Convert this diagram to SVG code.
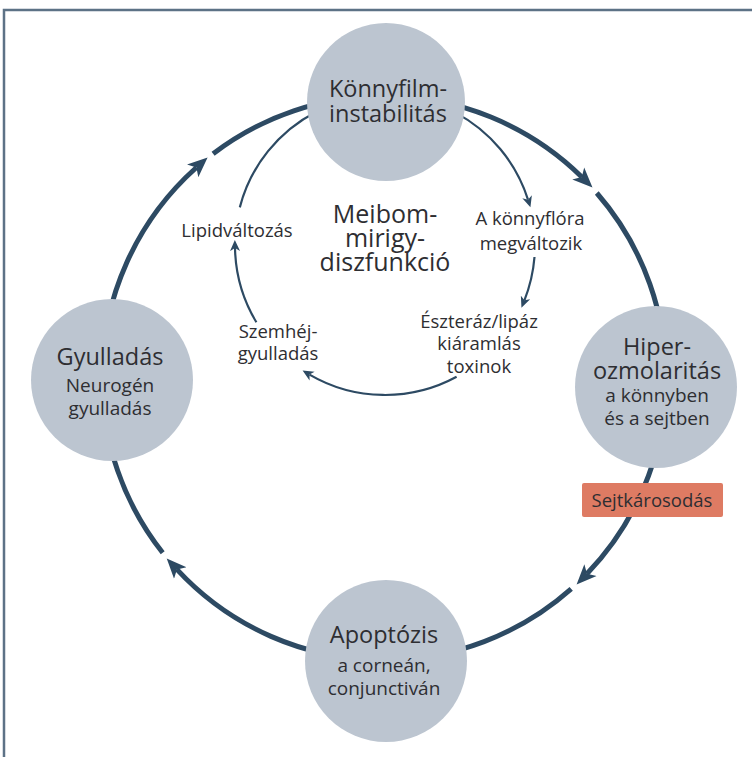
<svg xmlns="http://www.w3.org/2000/svg" width="752" height="757" viewBox="0 0 752 757">
<style>
.bg{fill:#ffffff}
.frame{fill:none;stroke:#5d7286;stroke-width:2.5}
.outer{fill:none;stroke:#2d4a63;stroke-width:5}
.inner{fill:none;stroke:#2d4a63;stroke-width:2.2}
.node{fill:#bcc5d0}
.t{font-family:"Open Sans","Noto Sans","Liberation Sans",sans-serif;fill:#2e2e32;text-anchor:middle}
.big{font-size:23.5px}
.small{font-size:19px}
.lab{font-size:18.5px}
.mid{font-size:25px}
.box{fill:#de7b63}
</style>
<defs>
<marker id="ao" markerUnits="userSpaceOnUse" markerWidth="24" markerHeight="20" viewBox="0 -10 24 20" refX="5" refY="0" orient="auto">
<path d="M0,-8.5 L20,0 L0,8.5 L5,0 z" fill="#2d4a63"/>
</marker>
<marker id="ai" markerUnits="userSpaceOnUse" markerWidth="14" markerHeight="12" viewBox="0 -6 14 12" refX="3" refY="0" orient="auto">
<path d="M0,-5 L11,0 L0,5 L3,0 z" fill="#2d4a63"/>
</marker>
</defs>
<rect class="bg" x="0" y="0" width="752" height="757"/>
<rect class="frame" x="4" y="10" width="800" height="800"/>
<g id="connectors">
<path class="outer" d="M384,96 A282,282 0 0 1 581.8,177.0" marker-end="url(#ao)"/>
<path class="outer" d="M596.8,193.0 A282,282 0 0 1 665.8,387.8"/>
<path class="outer" d="M665.8,387.8 A282,282 0 0 1 587.0,573.7" marker-end="url(#ao)"/>
<path class="outer" d="M571.2,588.9 A282,282 0 0 1 384,660"/>
<path class="outer" d="M384,660 A282,282 0 0 1 176.9,569.4" marker-end="url(#ao)"/>
<path class="outer" d="M162.7,552.8 A282,282 0 0 1 102,378"/>
<path class="outer" d="M102,378 A282,282 0 0 1 196.4,167.5" marker-end="url(#ao)"/>
<path class="outer" d="M213.1,153.7 A282,282 0 0 1 384,96"/>
<path class="inner" d="M455.4,112.6 A150,150 0 0 1 528.0,199.7" marker-end="url(#ai)"/>
<path class="inner" d="M534.5,257.0 A150,150 0 0 1 524.4,300.3" marker-end="url(#ai)"/>
<path class="inner" d="M456.6,376.8 A150,150 0 0 1 309.5,374.6" marker-end="url(#ai)"/>
<path class="inner" d="M256.4,322.3 A150,150 0 0 1 235.0,248.0" marker-end="url(#ai)"/>
<path class="inner" d="M239.8,207.4 A150,150 0 0 1 316.9,111.4"/>
</g>
<g id="node-konnyfilm">
<circle class="node" cx="386" cy="102" r="79"/>
<text class="t big" x="388" y="97">Könnyfilm-</text>
<text class="t big" x="388" y="122">instabilitás</text>
</g>
<g id="node-hiperozmolaritas">
<circle class="node" cx="656" cy="387" r="81"/>
<text class="t big" x="657" y="355">Hiper-</text>
<text class="t big" x="657" y="379">ozmolaritás</text>
<text class="t small" x="657" y="402">a könnyben</text>
<text class="t small" x="657" y="425">és a sejtben</text>
</g>
<g id="node-sejtkarosodas">
<rect class="box" x="582" y="483" width="141" height="34" rx="2"/>
<text class="t lab" x="652" y="507">Sejtkárosodás</text>
</g>
<g id="node-apoptozis">
<circle class="node" cx="386" cy="661" r="81"/>
<text class="t big" x="384" y="643">Apoptózis</text>
<text class="t small" x="384" y="672">a corneán,</text>
<text class="t small" x="384" y="695">conjunctiván</text>
</g>
<g id="node-gyulladas">
<circle class="node" cx="112" cy="380" r="81"/>
<text class="t big" x="110" y="365">Gyulladás</text>
<text class="t small" x="110" y="392">Neurogén</text>
<text class="t small" x="110" y="415">gyulladás</text>
</g>
<g id="node-meibom">
<text class="t mid" x="385" y="223">Meibom-</text>
<text class="t mid" x="385" y="247">mirigy-</text>
<text class="t mid" x="385" y="271">diszfunkció</text>
</g>
<g id="label-konnyflora">
<text class="t lab" x="530" y="225">A könnyflóra</text>
<text class="t lab" x="531" y="250">megváltozik</text>
</g>
<g id="label-eszteraz">
<text class="t lab" x="479" y="328">Észteráz/lipáz</text>
<text class="t lab" x="479" y="350">kiáramlás</text>
<text class="t lab" x="479" y="373">toxinok</text>
</g>
<g id="label-szemhej">
<text class="t lab" x="278" y="338">Szemhéj-</text>
<text class="t lab" x="278" y="360">gyulladás</text>
</g>
<g id="label-lipid">
<text class="t lab" x="237" y="237">Lipidváltozás</text>
</g>
</svg>
